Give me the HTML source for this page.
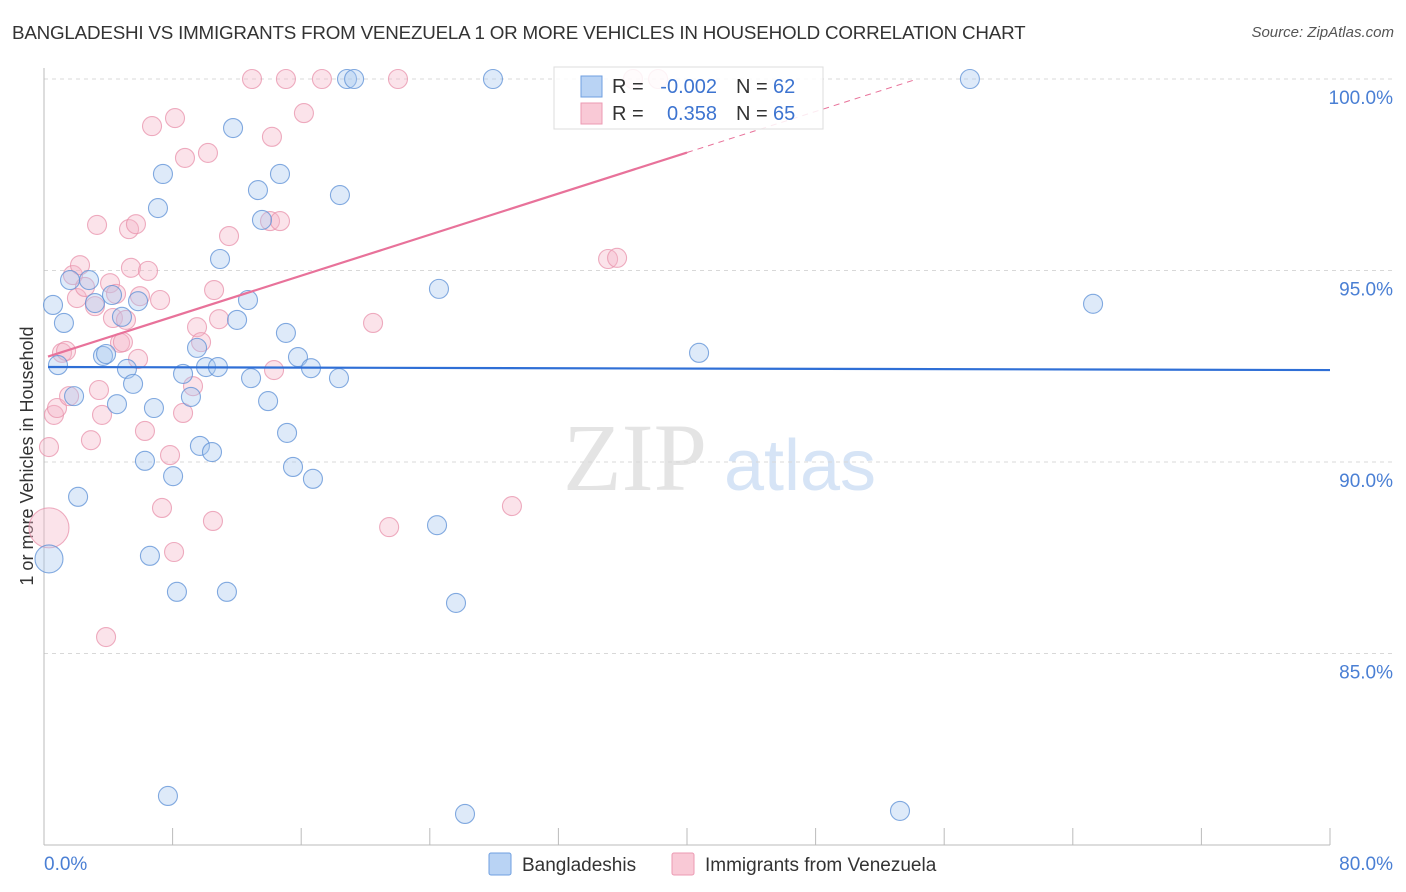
<!DOCTYPE html>
<html><head><meta charset="utf-8">
<style>
body{margin:0;background:#fff;font-family:"Liberation Sans",sans-serif;}
#wrap{position:relative;width:1406px;height:892px;overflow:hidden;}
.title{position:absolute;left:12px;top:22px;font-size:18.8px;color:#333;letter-spacing:-0.2px;}
.source{position:absolute;right:12px;top:24px;font-size:15px;color:#555;font-style:italic;}
</style></head><body>
<div id="wrap">
<div class="title">BANGLADESHI VS IMMIGRANTS FROM VENEZUELA 1 OR MORE VEHICLES IN HOUSEHOLD CORRELATION CHART</div>
<div class="source">Source: ZipAtlas.com</div>
<svg id="chart" width="1406" height="892" style="position:absolute;left:0;top:0"></svg>
</div>
<script>
const blueX=[0.31,0.56,0.87,1.24,1.62,1.87,2.12,2.80,3.17,3.67,3.86,4.23,4.54,4.85,5.16,5.54,5.85,6.28,6.59,6.84,7.09,7.40,7.71,8.03,8.27,8.65,9.14,9.52,9.70,10.08,10.45,10.82,10.95,11.38,11.76,12.01,12.69,12.88,13.31,13.56,13.94,14.68,15.05,15.12,15.49,15.80,16.61,16.73,18.35,18.41,18.85,19.29,24.45,24.57,25.63,26.19,27.93,40.75,53.25,57.60,65.26];
const blueY=[87.47,94.10,92.53,93.63,94.75,91.72,89.09,94.75,94.15,92.77,92.82,94.36,91.51,93.79,92.43,92.04,94.20,90.03,87.55,91.41,96.63,97.52,81.28,89.63,86.61,92.30,91.70,92.98,90.42,92.48,90.26,92.48,95.30,86.61,98.72,93.71,94.23,92.19,97.10,96.32,91.59,97.52,93.37,90.76,89.87,92.74,92.45,89.56,92.19,96.97,100,100,88.35,94.52,86.32,80.81,100,92.85,80.89,100,94.13];
const pinkX=[0.31,0.31,0.62,0.81,1.12,1.37,1.56,1.80,2.05,2.24,2.55,2.92,3.17,3.30,3.42,3.61,3.86,4.11,4.29,4.48,4.73,4.91,5.10,5.29,5.41,5.72,5.85,5.97,6.28,6.47,6.72,7.22,7.34,7.84,8.09,8.15,8.65,8.77,9.27,9.52,9.77,10.20,10.51,10.58,10.89,11.51,12.94,14.06,14.18,14.31,14.68,15.05,16.17,17.29,20.47,21.47,22.02,29.11,35.09,35.65,36.64,38.20];
const pinkY=[88.28,90.39,91.23,91.41,92.85,92.90,91.72,94.88,94.28,95.14,94.57,90.57,94.07,96.19,91.88,91.23,85.43,94.67,93.76,94.39,93.11,93.13,93.71,96.08,95.07,96.21,92.69,94.33,90.81,94.99,98.77,94.23,88.80,90.18,87.65,98.98,91.28,97.94,91.98,93.52,93.13,98.07,88.46,94.49,93.73,95.90,100,96.29,98.49,92.40,96.29,100,99.11,100,93.63,88.30,100,88.85,95.30,95.33,100,100];
const yTicks=[100,95,90,85];
const yTickLabels=["100.0%","95.0%","90.0%","85.0%"];
const blueTrend=[92.48,92.40];
const pinkTrend=[92.72,0.134];

const NS="http://www.w3.org/2000/svg";
const svg=document.getElementById('chart');
const X0=44,X1=1330,Y0=845,Y1=79;
const sx=v=>X0+(v/80)*(X1-X0);
const sy=v=>Y0-((v-80)/20)*(Y0-Y1);
function mk(t,a){const e=document.createElementNS(NS,t);for(const k in a)e.setAttribute(k,a[k]);svg.appendChild(e);return e;}

let wm=mk('text',{x:635,y:490,'font-size':96,'font-family':'Liberation Serif,serif',fill:'#e4e4e4','text-anchor':'middle'});
wm.textContent='ZIP';


let wm2=mk('text',{x:800,y:490,'font-size':72,'font-family':'Liberation Sans,sans-serif',fill:'#d6e4f6','text-anchor':'middle'});
wm2.textContent='atlas';



yTicks.forEach((t,i)=>{
  const g=mk('line',{x1:X0,x2:1394,y1:sy(t),y2:sy(t),stroke:'#d8d8d8','stroke-dasharray':'4,4'});
  
  
  const l=mk('text',{x:1393,y:sy(t)+25,'font-size':19,fill:'#4a7fd4','text-anchor':'end'});
  l.textContent=yTickLabels[i];
  
  
});
let ax=mk('line',{x1:X0,x2:X0,y1:68,y2:Y0,stroke:'#bbb'});


let bx=mk('line',{x1:X0,x2:X1,y1:Y0,y2:Y0,stroke:'#bbb'});


for(let i=0;i<=10;i++){
  const t=mk('line',{x1:sx(i*8),x2:sx(i*8),y1:Y0,y2:Y0-17,stroke:'#bbb'});
  
  
}
let xl0=mk('text',{x:44,y:870,'font-size':19,fill:'#4a7fd4'});xl0.textContent='0.0%';


let xl1=mk('text',{x:1393,y:870,'font-size':19,fill:'#4a7fd4','text-anchor':'end'});xl1.textContent='80.0%';


let yt=mk('text',{x:0,y:0,'font-size':18,fill:'#333','text-anchor':'middle',transform:'translate(33,456) rotate(-90)'});
yt.textContent='1 or more Vehicles in Household';



function dots(xs,ys,fill,stroke,name){
  xs.forEach((x,i)=>{
    let r=9.5;
    if(i===0) r=(name==='pink-point')?20:14;
    const c=mk('circle',{cx:sx(x),cy:sy(ys[i]),r:r,fill:fill,'fill-opacity':0.38,stroke:stroke,'stroke-opacity':0.75,'stroke-width':1.1});
    
    
  });
}
dots(pinkX,pinkY,'#f4b6c8','#e891ab','pink-point');
dots(blueX,blueY,'#a9c8f0','#5b8fd6','blue-point');

let bl=mk('line',{x1:sx(0.25),y1:sy(blueTrend[0]),x2:X1,y2:sy(blueTrend[1]),stroke:'#2f6fd6','stroke-width':2.2});


const pf=x=>pinkTrend[0]+pinkTrend[1]*x;
let pl=mk('line',{x1:sx(0.25),y1:sy(pf(0.25)),x2:sx(40),y2:sy(pf(40)),stroke:'#e8729a','stroke-width':2.2});


const xe=(100-pinkTrend[0])/pinkTrend[1];
let pd=mk('line',{x1:sx(40),y1:sy(pf(40)),x2:sx(xe),y2:sy(100),stroke:'#e8729a','stroke-width':1,'stroke-dasharray':'6,5'});



let lb=mk('rect',{x:554,y:67,width:269,height:62,fill:'#fff','fill-opacity':0.85,stroke:'#ddd'});


[[86,'#b9d3f4','#6f9fe0','-0.002','62'],[113,'#f9c9d6','#ec9ab3','0.358','65']].forEach((r,i)=>{
  const s=mk('rect',{x:581,y:r[0]-10,width:21,height:21,fill:r[1],stroke:r[2]});
  
  
  const t=mk('text',{x:612,y:r[0]+7,'font-size':20,fill:'#333'});
  t.innerHTML='R = <tspan fill="#3d74d0" x="717" text-anchor="end">'+r[3]+'</tspan><tspan x="736" fill="#333">N = </tspan><tspan fill="#3d74d0" x="773">'+r[4]+'</tspan>';
  
  
});

[[489,'#b9d3f4','#6f9fe0','Bangladeshis'],[672,'#f9c9d6','#ec9ab3','Immigrants from Venezuela']].forEach(r=>{
  const s=mk('rect',{x:r[0],y:853,width:22,height:22,fill:r[1],stroke:r[2],rx:2});
  
  
  const t=mk('text',{x:r[0]+33,y:871,'font-size':19,fill:'#333'});
  t.textContent=r[3];
  
  
});
</script>
</body></html>
